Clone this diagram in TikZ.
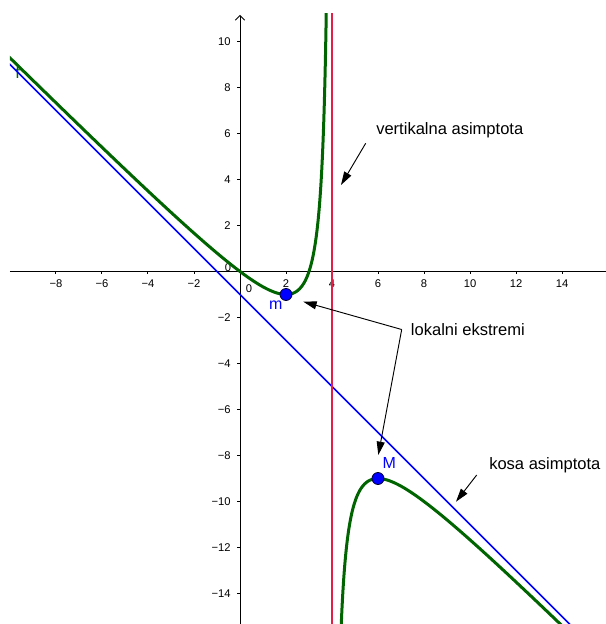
\documentclass[tikz,border=0pt]{standalone}
\usepackage{fontspec}
\setmainfont{Liberation Sans}
\usetikzlibrary{arrows.meta}
\definecolor{fgreen}{RGB}{0,100,0}
\definecolor{vred}{RGB}{228,30,70}
\definecolor{ablue}{RGB}{0,0,255}
\begin{document}
\begin{tikzpicture}[x=17.25pt,y=17.25pt,
  axisline/.style={line width=0.75pt,black},
  ticklbl/.style={font=\fontsize{8.4pt}{10pt}\selectfont,inner sep=0pt},
  anntext/.style={font=\fontsize{12.4pt}{14pt}\selectfont,inner sep=0pt},
  annarrow/.style={line width=0.7pt,-{Triangle[length=10pt,width=6pt]}},
  ptlbl/.style={font=\fontsize{12pt}{14pt}\selectfont,text=ablue,inner sep=0pt},
  pt/.style={circle,fill=ablue,draw=black!80!blue,line width=0.6pt,minimum size=9pt,inner sep=0pt}]
\useasboundingbox (-10.4348,-15.3261) rectangle (15.913,11.8043);
% axes
\draw[axisline] (-10,0) -- (15.913,0);
\draw[axisline,-{Straight Barb[length=3.5pt,width=7pt]}] (0,-15.3261) -- (0,11.16);
\foreach \v in {-8,-6,-4,-2,2,4,6,8,10,12,14} \draw[axisline] (\v,0) -- (\v,-0.11);
\foreach \v in {-14,-12,-10,-8,-6,-4,-2,2,4,6,8,10} \draw[axisline] (0,\v) -- (-0.11,\v);
\foreach \v/\t in {-8/8,-6/6,-4/4,-2/2} \node[ticklbl] at (\v,-0.513) {−\t};
\foreach \v in {2,4,6,8,10,12,14} \node[ticklbl] at (\v,-0.513) {\v};
\foreach \v/\t in {-14/14,-12/12,-10/10,-8/8,-6/6,-4/4,-2/2} \node[ticklbl,anchor=east] at (-0.40,\v) {−\t};
\foreach \v in {2,4,6,8,10} \node[ticklbl,anchor=east] at (-0.40,\v) {\v};
\node[ticklbl] at (-0.52,0.18) {0};
\node[ticklbl] at (0.39,-0.74) {0};
% f label
\node[anntext,text=fgreen,anchor=base] (flbl) at (-9.67,8.41) {f};
% graphs
\begin{scope}
\clip (-10,-15.3261) rectangle (15.913,11.196);
\draw[ablue,line width=1.1pt] (-10.5,9.5) -- (16,-17);
\draw[vred,line width=1.5pt] (4,-15.5) -- (4,11.5);
\draw[fgreen,line width=2.25pt,smooth,samples=250,variable=\s,domain=-1.45:2.67]
  plot ({4-exp(\s)},{exp(\s)-5+4/exp(\s)});
\draw[fgreen,line width=2.25pt,smooth,samples=250,variable=\s,domain=-0.99:2.33]
  plot ({4+exp(\s)},{-exp(\s)-5-4/exp(\s)});
\end{scope}
% points
\node[pt] (m) at (2,-1) {};
\node[pt] (M) at (6,-9) {};
\node[ptlbl] (mlbl) at (1.552,-1.457) {m};
\node[ptlbl] (Mlbl) at (6.491,-8.339) {M};
% annotations
\node[anntext,anchor=base west] (vert) at (5.913,5.935) {vertikalna asimptota};
\node[anntext,anchor=base west] (lok) at (7.422,-2.761) {lokalni ekstremi};
\node[anntext,anchor=base west] (kosa) at (10.826,-8.587) {kosa asimptota};
\coordinate (v1) at (5.465,5.574);
\coordinate (v2) at (4.391,3.761);
\coordinate (c) at (7.030,-2.522);
\coordinate (tm) at (2.752,-1.313);
\coordinate (tM) at (6.013,-7.978);
\coordinate (k1) at (10.291,-8.848);
\coordinate (k2) at (9.391,-10.009);
\draw[annarrow] (v1) -- (v2);
\draw[annarrow] (c) -- (tm);
\draw[annarrow] (c) -- (tM);
\draw[annarrow] (k1) -- (k2);
\end{tikzpicture}
\end{document}
